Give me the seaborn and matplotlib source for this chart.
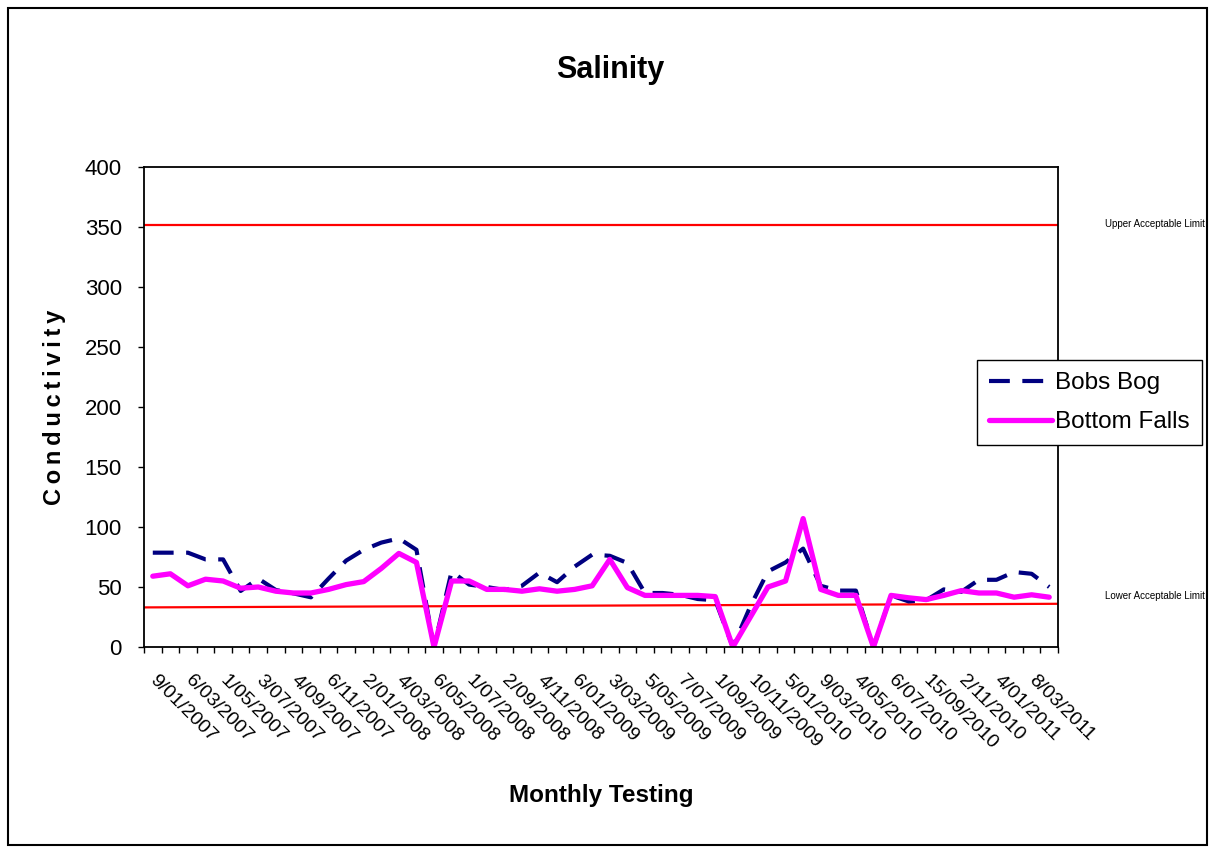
import numpy as np
import pandas as pd
import seaborn as sns
import matplotlib.pyplot as plt
from matplotlib.patches import Rectangle

sns.set_style('white')
plt.rcParams['font.family'] = ['Liberation Sans', 'DejaVu Sans']
plt.rcParams['text.color'] = 'black'
plt.rcParams['axes.labelcolor'] = 'black'
plt.rcParams['xtick.color'] = 'black'
plt.rcParams['ytick.color'] = 'black'

# every other monthly test date is labelled on the axis
tick_labels = ['9/01/2007', '6/03/2007', '1/05/2007', '3/07/2007', '4/09/2007',
               '6/11/2007', '2/01/2008', '4/03/2008', '6/05/2008', '1/07/2008',
               '2/09/2008', '4/11/2008', '6/01/2009', '3/03/2009', '5/05/2009',
               '7/07/2009', '1/09/2009', '10/11/2009', '5/01/2010', '9/03/2010',
               '4/05/2010', '6/07/2010', '15/09/2010', '2/11/2010', '4/01/2011',
               '8/03/2011']

bobs_bog = [78.6, 78.6, 78.6, 73, 73, 46.7, 57, 47.5, 44.7, 41.4,
            57, 72, 81, 87, 90.5, 81, 0, 63, 52, 50,
            47.5, 51, 62, 54, 67, 77, 76, 70, 45, 45,
            43.5, 40, 39, 0, 34, 63, 70.5, 82, 51, 47,
            47, 0, 43, 38, 39, 48, 46, 56, 56, 62.5,
            61, 50]

bottom_falls = [59, 61, 51, 56.5, 55, 49, 50, 46.5, 45, 45,
                48, 52, 54.5, 65.5, 78, 70.5, 0, 55, 55, 48,
                48, 46.5, 48.5, 46.5, 48, 51, 73, 49.5, 43, 43,
                43, 43, 42, 0, 25, 50, 55, 107, 48, 43,
                43, 0, 43, 41, 39.5, 43, 47, 45, 45, 41.5,
                43.5, 41.5]

upper_limit = [352, 352]
lower_limit = [33, 36]

W, H = 1212, 847
fig = plt.figure(figsize=(W / 100, H / 100), dpi=100)
ax = fig.add_axes([144 / W, 1 - 647 / H, (1058 - 144) / W, (647 - 167) / H])

pos = np.arange(len(bobs_bog))
edges = [pos[0] - 0.5, pos[-1] + 0.5]
df = pd.DataFrame({'pos': pos, 'Bobs Bog': bobs_bog, 'Bottom Falls': bottom_falls})

sns.lineplot(x=edges, y=upper_limit, color='#FF0000', lw=1.6, ax=ax)
sns.lineplot(x=edges, y=lower_limit, color='#FF0000', lw=1.6, ax=ax)
sns.lineplot(data=df, x='pos', y='Bobs Bog', color='#000080', lw=3,
             linestyle=(0, (5, 3)), label='Bobs Bog', ax=ax)
sns.lineplot(data=df, x='pos', y='Bottom Falls', color='#FF00FF', lw=3.8,
             label='Bottom Falls', ax=ax)

ax.set_xlim(edges)
ax.set_ylim(0, 400)
ax.set_yticks(np.arange(0, 401, 50))
ax.tick_params(axis='y', direction='out', length=4, width=1, labelsize=16,
               pad=12, left=True, color='black')
ax.set_xticks(pos[::2])
ax.set_xticklabels(tick_labels)
ax.set_xticks(np.arange(edges[0], edges[1] + 0.1, 1), minor=True)
ax.tick_params(axis='x', which='major', length=0, pad=22, labelsize=14)
ax.tick_params(axis='x', which='minor', direction='out', length=4, width=1,
               bottom=True, color='black')
plt.setp(ax.get_xticklabels(), rotation=-45, ha='left', va='center',
         rotation_mode='anchor')
for s in ax.spines.values():
    s.set_color('black')
    s.set_linewidth(1.3)

ax.set_xlabel('Monthly Testing', fontsize=17.5, fontweight='bold', va='center')
ax.xaxis.set_label_coords(0.5, (647 - 795) / 480)
ax.set_ylabel('C\u2009o\u2009n\u2009d\u2009u\u2009c\u2009t\u2009i\u2009v\u2009i\u2009t\u2009y',
              fontsize=17, fontweight='bold', va='center')
ax.yaxis.set_label_coords((55 - 144) / 914, 0.5)

fig.text(610 / W, 1 - 70 / H, 'Salinity', fontsize=22, fontweight='bold',
         ha='center', va='center')

handles, labels = ax.get_legend_handles_labels()
ax.legend(handles[-2:], labels[-2:], loc='upper left',
          bbox_to_anchor=(977 / W, 1 - 360 / H), bbox_transform=fig.transFigure,
          fontsize=17.5, frameon=True, fancybox=False, edgecolor='black',
          framealpha=1, handlelength=2.6, handletextpad=0.1, labelspacing=0.7,
          borderpad=0.5, borderaxespad=0)
ax.get_legend().get_frame().set_linewidth(1)

# limit labels sit in the right margin, squeezed to fit inside the frame
for txt, yy in [('Upper Acceptable Limit', 224), ('Lower Acceptable Limit', 596)]:
    fig.text(1105 / W, 1 - yy / H, txt, fontsize=7, ha='left', va='center')

fig.patches.append(Rectangle((8 / W, 2 / H), (1207 - 8) / W, (845 - 8) / H,
                             transform=fig.transFigure, fill=False,
                             edgecolor='black', lw=1.5))

fig.savefig('out.png', dpi=100, facecolor='white')
